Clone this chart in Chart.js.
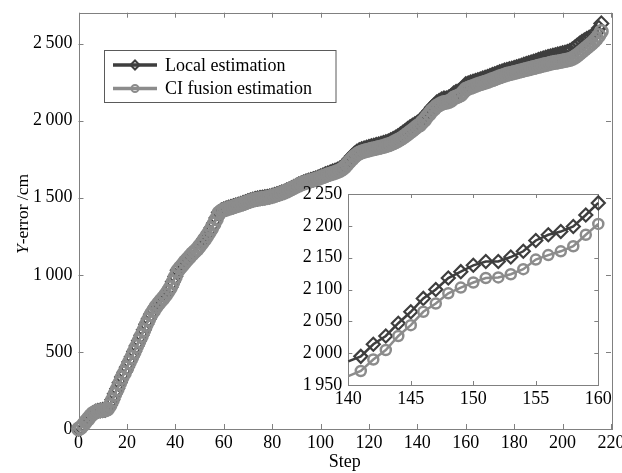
<!DOCTYPE html>
<html>
<head>
<meta charset="utf-8">
<script src="https://cdn.jsdelivr.net/npm/chart.js@4.4.1/dist/chart.umd.min.js"></script>
<style>
  html, body { margin: 0; padding: 0; background: #fff; }
  #wrap { position: relative; width: 622px; height: 473px; }
  #main { position: absolute; left: 0; top: 0; }
  #inset { position: absolute; left: 290px; top: 185px; }
</style>
</head>
<body>
<div id="wrap">
  <canvas id="main" width="622" height="473"></canvas>
  <canvas id="inset" width="322" height="230"></canvas>
</div>
<script>
// Y-error per step (steps 0..216)
const localEst = [
  2, 12, 30, 50, 68, 88, 103, 112, 118, 121,
  123, 125, 132, 155, 190, 228, 262, 300, 337, 368,
  400, 435, 468, 503, 538, 573, 608, 643, 680, 713,
  745, 770, 795, 815, 835, 852, 872, 895, 920, 955,
  990, 1030, 1050, 1068, 1088, 1105, 1122, 1140, 1155, 1170,
  1190, 1210, 1232, 1255, 1278, 1305, 1335, 1368, 1405, 1418,
  1424, 1430, 1436, 1440, 1445, 1450, 1455, 1460, 1466, 1472,
  1478, 1483, 1488, 1492, 1495, 1498, 1500, 1503, 1506, 1509,
  1513, 1518, 1523, 1528, 1534, 1540, 1547, 1554, 1562, 1570,
  1578, 1586, 1593, 1599, 1605, 1610, 1615, 1620, 1625, 1631,
  1638, 1645, 1652, 1658, 1664, 1670, 1676, 1682, 1690, 1700,
  1715, 1733, 1752, 1770, 1786, 1798, 1808, 1815, 1820, 1825,
  1830, 1834, 1838, 1842, 1846, 1850, 1855, 1860, 1866, 1873,
  1881, 1890, 1900, 1911, 1922, 1934, 1946, 1958, 1968, 1977,
  1987, 1995, 2014, 2027, 2047, 2065, 2086, 2100, 2118, 2128,
  2138, 2144, 2144, 2151, 2160, 2177, 2186, 2191, 2199, 2217,
  2236, 2242, 2248, 2253, 2258, 2263, 2268, 2273, 2278, 2284,
  2290, 2296, 2302, 2308, 2314, 2320, 2325, 2329, 2333, 2337,
  2342, 2347, 2352, 2357, 2363, 2368, 2373, 2378, 2383, 2388,
  2393, 2398, 2403, 2408, 2413, 2417, 2421, 2425, 2429, 2433,
  2437, 2441, 2445, 2452, 2462, 2474, 2487, 2499, 2511, 2521,
  2530, 2538, 2546, 2557, 2575, 2600, 2630
];
const ciFusion = [
  0, 10, 28, 48, 66, 86, 101, 110, 116, 119,
  121, 123, 130, 152, 187, 225, 259, 297, 334, 365,
  397, 432, 465, 500, 535, 570, 605, 640, 677, 710,
  742, 767, 792, 812, 832, 849, 869, 892, 917, 952,
  987, 1026, 1046, 1064, 1084, 1101, 1118, 1136, 1151, 1166,
  1186, 1206, 1228, 1251, 1274, 1301, 1331, 1364, 1401, 1414,
  1420, 1426, 1432, 1436, 1441, 1446, 1451, 1456, 1462, 1468,
  1474, 1479, 1484, 1488, 1491, 1494, 1496, 1499, 1502, 1505,
  1509, 1514, 1519, 1524, 1530, 1536, 1543, 1550, 1558, 1566,
  1574, 1582, 1589, 1595, 1601, 1606, 1611, 1615, 1620, 1625,
  1631, 1637, 1643, 1649, 1654, 1659, 1664, 1670, 1677, 1686,
  1700, 1717, 1735, 1752, 1768, 1780, 1790, 1797, 1802, 1806,
  1810, 1814, 1818, 1821, 1825, 1829, 1833, 1838, 1843, 1849,
  1856, 1864, 1872, 1881, 1891, 1902, 1914, 1926, 1938, 1951,
  1964, 1972, 1990, 2005, 2027, 2044, 2065, 2078, 2094, 2103,
  2111, 2118, 2119, 2124, 2132, 2147, 2154, 2160, 2168, 2186,
  2203, 2210, 2216, 2222, 2228, 2234, 2239, 2244, 2249, 2254,
  2260, 2266, 2272, 2278, 2284, 2290, 2295, 2300, 2304, 2308,
  2312, 2316, 2320, 2324, 2328, 2332, 2336, 2340, 2344, 2348,
  2352, 2356, 2360, 2364, 2368, 2372, 2375, 2378, 2381, 2384,
  2387, 2390, 2393, 2397, 2403, 2412, 2423, 2435, 2448, 2461,
  2474, 2487, 2500, 2515, 2532, 2552, 2578
];
const steps = localEst.map((_, i) => i);

const xTicks = [0, 20, 40, 60, 80, 100, 120, 140, 160, 180, 200, 220];
const yTicks = [0, 500, 1000, 1500, 2000, 2500];
const yTickLabels = ['0', '500', '1\u2009000', '1\u2009500', '2\u2009000', '2\u2009500'];

// zoomed window
const insetFrom = 140, insetTo = 160;
const insetXTicks = [140, 145, 150, 155, 160];
const insetYTicks = [1950, 2000, 2050, 2100, 2150, 2200, 2250];
const insetYTickLabels = ['1\u2009950', '2\u2009000', '2\u2009050', '2\u2009100', '2\u2009150', '2\u2009200', '2\u2009250'];

const DARK = '#3e3e3e';
const LIGHT = '#8c8c8c';
const AXIS = '#808080';
const FONT = 'Liberation Serif';

function pts(xs, ys) {
  return xs.map((x, i) => ({ x: x, y: ys[i] }));
}

// box + inward ticks on all four sides
const framePlugin = {
  id: 'frame',
  beforeDatasetsDraw(chart, args, opts) {
    const { ctx, chartArea: a, scales: { x, y } } = chart;
    ctx.save();
    if (opts.fill) {
      ctx.fillStyle = opts.fill;
      ctx.fillRect(a.left, a.top, a.right - a.left, a.bottom - a.top);
    }
    ctx.strokeStyle = AXIS;
    ctx.lineWidth = 1;
    ctx.beginPath();
    x.ticks.forEach(t => {
      const p = Math.round(x.getPixelForValue(t.value)) + 0.5;
      ctx.moveTo(p, a.bottom); ctx.lineTo(p, a.bottom - opts.len);
      ctx.moveTo(p, a.top); ctx.lineTo(p, a.top + opts.len);
    });
    y.ticks.forEach(t => {
      const p = Math.round(y.getPixelForValue(t.value)) + 0.5;
      ctx.moveTo(a.left, p); ctx.lineTo(a.left + opts.len, p);
      ctx.moveTo(a.right, p); ctx.lineTo(a.right - opts.len, p);
    });
    ctx.stroke();
    ctx.strokeRect(Math.round(a.left) + 0.5, Math.round(a.top) + 0.5,
      Math.round(a.right - a.left), Math.round(a.bottom - a.top));
    ctx.restore();
  }
};

const yTitlePlugin = {
  id: 'ytitle',
  afterDraw(chart) {
    const ctx = chart.ctx;
    const fi = 'italic 17.5px "' + FONT + '"';
    const fn = '17.5px "' + FONT + '"';
    ctx.save();
    ctx.translate(28, 214);
    ctx.rotate(-Math.PI / 2);
    ctx.fillStyle = '#000';
    ctx.textBaseline = 'alphabetic';
    ctx.font = fi;
    const w1 = ctx.measureText('Y').width;
    ctx.font = fn;
    const w2 = ctx.measureText('-error /cm').width;
    const x0 = -(w1 + w2) / 2;
    ctx.font = fi;
    ctx.fillText('Y', x0, 0);
    ctx.font = fn;
    ctx.fillText('-error /cm', x0 + w1, 0);
    ctx.restore();
  }
};

const legendPlugin = {
  id: 'boxLegend',
  afterDatasetsDraw(chart) {
    const ctx = chart.ctx;
    ctx.save();
    ctx.fillStyle = '#fff';
    ctx.fillRect(104.5, 50.5, 231.5, 52);
    ctx.strokeStyle = '#5a5a5a';
    ctx.lineWidth = 1;
    ctx.strokeRect(104.5, 50.5, 231.5, 52);
    const rows = [65, 88.5];
    chart.data.datasets.forEach((ds, i) => {
      const yy = rows[i];
      ctx.strokeStyle = ds.borderColor;
      ctx.lineWidth = 3.5;
      ctx.beginPath();
      ctx.moveTo(113, yy); ctx.lineTo(157, yy);
      ctx.stroke();
      ctx.lineWidth = 2;
      ctx.fillStyle = 'rgba(0,0,0,0)';
      Chart.helpers.drawPoint(ctx, {
        pointStyle: ds.pointStyle, radius: ds.pointStyle === 'circle' ? 3.5 : 4.5,
        rotation: 0, borderWidth: 2
      }, 135, yy);
      ctx.fillStyle = '#000';
      ctx.font = '18px "' + FONT + '"';
      ctx.textBaseline = 'middle';
      ctx.textAlign = 'left';
      ctx.fillText(ds.label, 165, yy + 1);
    });
    ctx.restore();
  }
};

function tickFont() {
  return { family: FONT, size: 18 };
}

new Chart(document.getElementById('main'), {
  type: 'line',
  data: {
    datasets: [
      {
        label: 'Local estimation',
        data: pts(steps, localEst),
        borderColor: DARK,
        borderWidth: 2.5,
        pointStyle: 'rectRot',
        pointRadius: 7,
        pointBorderWidth: 2,
        pointBorderColor: DARK,
        pointBackgroundColor: 'rgba(0,0,0,0)',
        clip: false,
        order: 2
      },
      {
        label: 'CI fusion estimation',
        data: pts(steps, ciFusion),
        borderColor: LIGHT,
        borderWidth: 2.5,
        pointStyle: 'circle',
        pointRadius: 6.2,
        pointBorderWidth: 2.6,
        pointBorderColor: LIGHT,
        pointBackgroundColor: 'rgba(0,0,0,0)',
        clip: false,
        order: 1
      }
    ]
  },
  options: {
    responsive: false,
    animation: false,
    devicePixelRatio: 1,
    layout: { padding: { left: 0, right: 11, top: 12.7, bottom: 0 } },
    plugins: { legend: { display: false }, tooltip: { enabled: false }, frame: { len: 5 } },
    scales: {
      x: {
        type: 'linear', min: 0, max: 220,
        afterBuildTicks: s => { s.ticks = xTicks.map(v => ({ value: v })); },
        afterFit: s => { s.height = 44; s.paddingLeft = 0; s.paddingRight = 0; },
        grid: { display: false, drawTicks: false },
        border: { display: false },
        ticks: { padding: 3, color: '#000', font: tickFont(), maxRotation: 0, autoSkip: false,
          callback: v => String(v) },
        title: { display: true, text: 'Step', color: '#000', font: tickFont(), padding: 0 }
      },
      y: {
        type: 'linear', min: 0, max: 2700,
        afterBuildTicks: s => { s.ticks = yTicks.map(v => ({ value: v })); },
        afterFit: s => { s.width = 78.5; s.paddingTop = 0; s.paddingBottom = 0; },
        grid: { display: false, drawTicks: false },
        border: { display: false },
        ticks: { padding: 6, color: '#000', font: tickFont(), autoSkip: false,
          callback: (v, i) => yTickLabels[i] }
      }
    }
  },
  plugins: [framePlugin, yTitlePlugin, legendPlugin]
});

const insetSteps = steps.slice(insetFrom, insetTo + 1);
new Chart(document.getElementById('inset'), {
  type: 'line',
  data: {
    datasets: [
      {
        label: 'Local estimation',
        data: pts(insetSteps, localEst.slice(insetFrom, insetTo + 1)),
        borderColor: DARK,
        borderWidth: 2.5,
        pointStyle: 'rectRot',
        pointRadius: c => (c.dataIndex === 0 ? 0 : 6.5),
        pointBorderWidth: 2.2,
        pointBorderColor: DARK,
        pointBackgroundColor: 'rgba(0,0,0,0)',
        clip: false,
        order: 2
      },
      {
        label: 'CI fusion estimation',
        data: pts(insetSteps, ciFusion.slice(insetFrom, insetTo + 1)),
        borderColor: LIGHT,
        borderWidth: 2.5,
        pointStyle: 'circle',
        pointRadius: c => (c.dataIndex === 0 ? 0 : 5),
        pointBorderWidth: 2.5,
        pointBorderColor: LIGHT,
        pointBackgroundColor: 'rgba(0,0,0,0)',
        clip: false,
        order: 1
      }
    ]
  },
  options: {
    responsive: false,
    animation: false,
    devicePixelRatio: 1,
    layout: { padding: { left: 0, right: 13.7, top: 9, bottom: 0 } },
    plugins: { legend: { display: false }, tooltip: { enabled: false }, frame: { len: 4, fill: '#fff' } },
    scales: {
      x: {
        type: 'linear', min: insetFrom, max: insetTo,
        afterBuildTicks: s => { s.ticks = insetXTicks.map(v => ({ value: v })); },
        afterFit: s => { s.height = 30; s.paddingLeft = 0; s.paddingRight = 0; },
        grid: { display: false, drawTicks: false },
        border: { display: false },
        ticks: { padding: 3, color: '#000', font: tickFont(), maxRotation: 0, autoSkip: false,
          callback: v => String(v) }
      },
      y: {
        type: 'linear', min: 1950, max: 2250,
        afterBuildTicks: s => { s.ticks = insetYTicks.map(v => ({ value: v })); },
        afterFit: s => { s.width = 58.3; s.paddingTop = 0; s.paddingBottom = 0; },
        grid: { display: false, drawTicks: false },
        border: { display: false },
        ticks: { padding: 6, color: '#000', font: tickFont(), autoSkip: false,
          callback: (v, i) => insetYTickLabels[i] }
      }
    }
  },
  plugins: [framePlugin]
});
</script>
</body>
</html>
